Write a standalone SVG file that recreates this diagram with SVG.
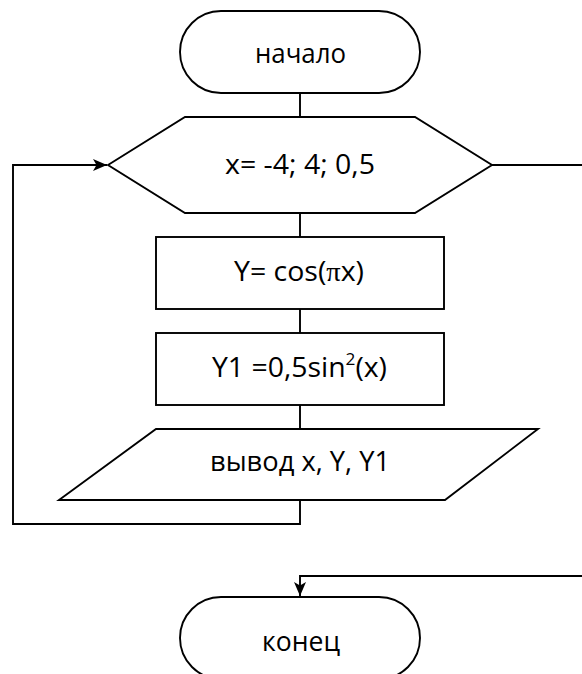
<svg xmlns="http://www.w3.org/2000/svg" width="582" height="674" viewBox="0 0 582 674">
  <defs>
    <style>
      .shape { fill: #ffffff; stroke: #000000; stroke-width: 1.9; stroke-linejoin: miter; }
      .wire { fill: none; stroke: #000000; stroke-width: 1.9; }
      .label { font-family: "Open Sans", "Noto Sans", "DejaVu Sans", sans-serif; font-size: 28px; fill: #000000; text-anchor: middle; }
      .pi { font-family: "Liberation Serif", "DejaVu Serif", serif; }
    </style>
    <marker id="arrow" viewBox="0 0 14 12" refX="14" refY="6" markerWidth="14" markerHeight="12" markerUnits="userSpaceOnUse" orient="auto">
      <path d="M0,0 L14,6 L0,12 L3.5,6 Z" fill="#000000"/>
    </marker>
  </defs>

  <rect width="582" height="674" fill="#ffffff"/>

  <!-- connectors -->
  <g id="connectors">
    <line class="wire" x1="300" y1="93" x2="300" y2="117"/>
    <line class="wire" x1="300" y1="213" x2="300" y2="237"/>
    <line class="wire" x1="300" y1="309" x2="300" y2="333"/>
    <line class="wire" x1="300" y1="405" x2="300" y2="429"/>
    <!-- loop back to the range header -->
    <polyline class="wire" points="300,500 300,524 13,524 13,165 107,165" marker-end="url(#arrow)"/>
    <!-- loop exit -->
    <polyline class="wire" points="492,165 584,165"/>
    <polyline class="wire" points="584,576 300,576 300,596" marker-end="url(#arrow)"/>
  </g>

  <g id="start">
    <rect class="shape" x="180" y="11" width="240" height="82" rx="41" ry="41"/>
    <text class="label" x="300.5" y="63" textLength="91" lengthAdjust="spacingAndGlyphs">начало</text>
  </g>

  <g id="loop">
    <polygon class="shape" points="108,165 185,117 415,117 492,165 415,213 185,213"/>
    <text class="label" x="300" y="174" textLength="150" lengthAdjust="spacingAndGlyphs">x= -4; 4; 0,5</text>
  </g>

  <g id="calcY">
    <rect class="shape" x="156" y="237" width="288" height="72"/>
    <text class="label" x="299" y="281" textLength="130" lengthAdjust="spacingAndGlyphs">Y= cos(<tspan class="pi">π</tspan>x)</text>
  </g>

  <g id="calcY1">
    <rect class="shape" x="156" y="333" width="288" height="72"/>
    <text class="label" x="299.5" y="377" textLength="175" lengthAdjust="spacingAndGlyphs">Y1 =0,5sin<tspan font-size="17" dy="-12">2</tspan><tspan dy="12">(x)</tspan></text>
  </g>

  <g id="output">
    <polygon class="shape" points="156,429 538,429 445,500 59,500"/>
    <text class="label" x="300" y="471" textLength="180" lengthAdjust="spacingAndGlyphs">вывод x, Y, Y1</text>
  </g>

  <g id="end">
    <rect class="shape" x="180" y="597" width="240" height="82" rx="41" ry="41"/>
    <text class="label" x="301" y="651" textLength="78" lengthAdjust="spacingAndGlyphs">конец</text>
  </g>
</svg>
